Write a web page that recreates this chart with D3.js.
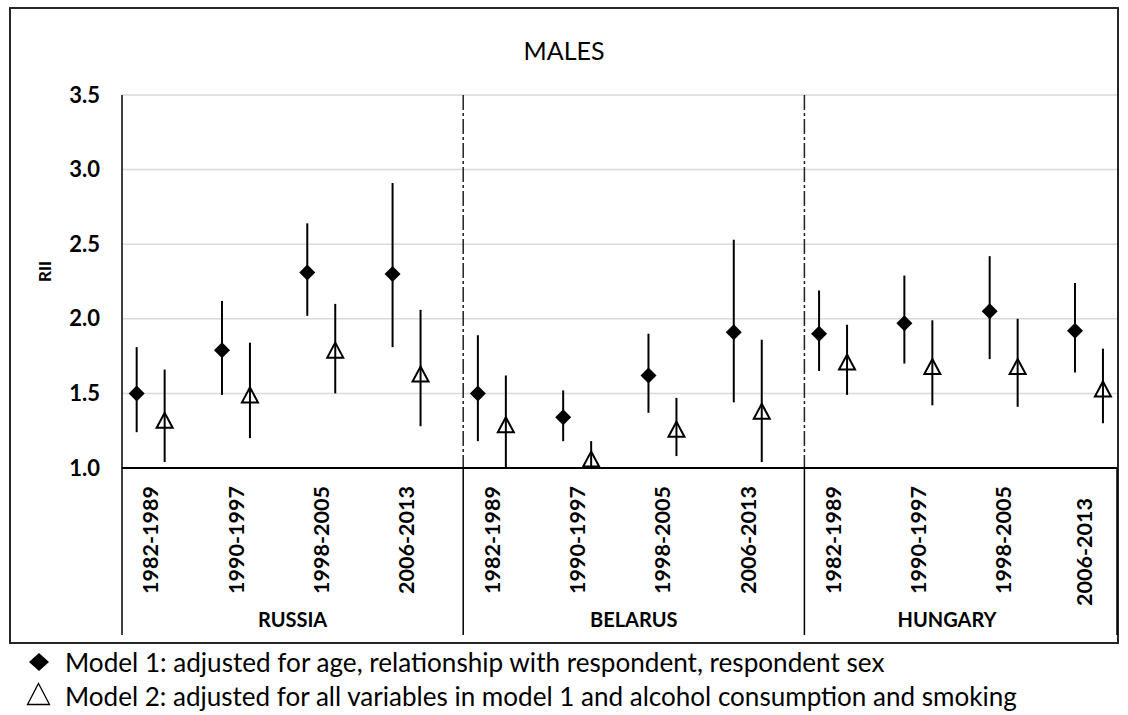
<!DOCTYPE html>
<html>
<head>
<meta charset="utf-8">
<script src="https://cdn.jsdelivr.net/npm/d3@7"></script>
<style>
  html, body { margin: 0; padding: 0; background: #fff; }
  svg { display: block; font-family: Lato, "Open Sans", sans-serif; }
</style>
</head>
<body>
<svg id="chart" width="1128" height="715"></svg>
<script>
// ---- data ----
const countries = ["RUSSIA", "BELARUS", "HUNGARY"];
const periods = ["1982-1989", "1990-1997", "1998-2005", "2006-2013"];
const yTicks = [1.0, 1.5, 2.0, 2.5, 3.0, 3.5];

// Model 1 (filled diamond): estimate, lower CI, upper CI  (Russia x4, Belarus x4, Hungary x4)
const m1Est = [1.50, 1.79, 2.31, 2.30, 1.50, 1.34, 1.62, 1.91, 1.90, 1.97, 2.05, 1.92];
const m1Lo  = [1.24, 1.49, 2.02, 1.81, 1.18, 1.18, 1.37, 1.44, 1.65, 1.70, 1.73, 1.64];
const m1Hi  = [1.81, 2.12, 2.64, 2.91, 1.89, 1.52, 1.90, 2.53, 2.19, 2.29, 2.42, 2.24];
// Model 2 (open triangle)
const m2Est = [1.32, 1.49, 1.79, 1.63, 1.29, 1.06, 1.26, 1.38, 1.71, 1.68, 1.68, 1.53];
const m2Lo  = [1.04, 1.20, 1.50, 1.28, 0.93, 0.92, 1.08, 1.04, 1.49, 1.42, 1.41, 1.30];
const m2Hi  = [1.66, 1.84, 2.10, 2.06, 1.62, 1.18, 1.47, 1.86, 1.96, 1.99, 2.00, 1.80];

const legendLabels = [
  "Model 1: adjusted for age, relationship with respondent, respondent sex",
  "Model 2: adjusted for all variables in model 1 and alcohol consumption and smoking"
];
const titleText = "MALES";
const yTitle = "RII";

// ---- layout ----
const svg = d3.select("#chart");
const plotLeft = 122, plotRight = 1117, plotTop = 95, plotBottom = 468;
const catBottom = 635;

const cats = [];
countries.forEach(c => periods.forEach(p => cats.push(c + "|" + p)));

const x = d3.scaleBand().domain(cats).range([plotLeft, plotLeft + 12 * 85.3]).padding(0);
const bw = x.bandwidth();
const y = d3.scaleLinear().domain([1, 3.5]).range([plotBottom, plotTop]);

const rows = cats.map((k, i) => ({
  key: k, country: k.split("|")[0], period: k.split("|")[1], i,
  m1: m1Est[i], m1lo: m1Lo[i], m1hi: m1Hi[i],
  m2: m2Est[i], m2lo: m2Lo[i], m2hi: m2Hi[i]
}));

// outer frame
svg.append("rect").attr("x", 10).attr("y", 8).attr("width", 1108).attr("height", 635)
  .attr("fill", "#fff").attr("stroke", "#262626").attr("stroke-width", 2);

// title
svg.append("text").attr("x", 564).attr("y", 60).attr("text-anchor", "middle")
  .attr("font-size", 25).attr("fill", "#000").text(titleText);

// gridlines
svg.append("g").selectAll("line").data(yTicks.filter(t => t > 1)).join("line")
  .attr("x1", plotLeft).attr("x2", plotRight)
  .attr("y1", d => y(d)).attr("y2", d => y(d))
  .attr("stroke", "#d9d9d9").attr("stroke-width", 1.5);

// y axis
const yAxis = d3.axisLeft(y).tickValues(yTicks).tickFormat(d3.format(".1f")).tickSize(0).tickPadding(22);
const gy = svg.append("g").attr("transform", `translate(${plotLeft},0)`).call(yAxis);
gy.select(".domain").remove();
gy.selectAll("text").attr("font-family", "Lato").attr("font-weight", "bold")
  .attr("font-size", 22).attr("fill", "#000");
svg.append("line").attr("x1", plotLeft).attr("x2", plotLeft).attr("y1", plotTop).attr("y2", plotBottom)
  .attr("stroke", "#000").attr("stroke-width", 1.5);

// y title
svg.append("text").attr("transform", `translate(51,${(plotTop + plotBottom) / 2 - 10}) rotate(-90)`)
  .attr("text-anchor", "middle").attr("font-weight", "bold").attr("font-size", 17).text(yTitle);

// country separators (dash-dot) inside plot
const sepX = countries.slice(1).map(c => x(c + "|" + periods[0]));
svg.append("g").selectAll("line").data(sepX).join("line")
  .attr("x1", d => d).attr("x2", d => d).attr("y1", plotTop).attr("y2", plotBottom)
  .attr("stroke", "#222").attr("stroke-width", 1.5).attr("stroke-dasharray", "15,3,3,3");

// category axis box
svg.append("line").attr("x1", plotLeft).attr("x2", plotRight).attr("y1", plotBottom).attr("y2", plotBottom)
  .attr("stroke", "#000").attr("stroke-width", 1.8);
const boxX = [plotLeft, ...sepX, plotRight];
svg.append("g").selectAll("line").data(boxX).join("line")
  .attr("x1", d => d).attr("x2", d => d).attr("y1", plotBottom).attr("y2", catBottom)
  .attr("stroke", "#000").attr("stroke-width", 1.5);

// period labels
svg.append("g").selectAll("text").data(rows).join("text")
  .attr("transform", d => {
    const last = d.i === rows.length - 1;
    const cx = x(d.key) + bw * 0.337 - (last ? 5 : 0);
    const cy = 540 + (last ? 12 : 0);
    return `translate(${cx},${cy}) rotate(-90)`;
  })
  .attr("text-anchor", "middle").attr("dy", "0.36em")
  .attr("font-weight", "bold").attr("font-size", 21.5).attr("fill", "#000")
  .text(d => d.period);

// country labels
const countryMid = {
  RUSSIA: (boxX[0] + boxX[1]) / 2,
  BELARUS: (boxX[1] + boxX[2]) / 2,
  HUNGARY: 947
};
svg.append("g").selectAll("text").data(countries).join("text")
  .attr("x", d => countryMid[d]).attr("y", 627).attr("text-anchor", "middle")
  .attr("font-weight", "bold").attr("font-size", 20).attr("fill", "#000").text(d => d);

// clip for marks
svg.append("clipPath").attr("id", "plotclip").append("rect")
  .attr("x", plotLeft).attr("y", plotTop - 20).attr("width", plotRight - plotLeft).attr("height", plotBottom - plotTop + 20);

const marks = svg.append("g").attr("clip-path", "url(#plotclip)");
const dx1 = bw * 0.172, dx2 = bw * 0.5;

const diamond = (s) => `M0,${-s}L${s},0L0,${s}L${-s},0Z`;
const triangle = (w, h) => `M0,${-h / 2}L${w / 2},${h / 2}L${-w / 2},${h / 2}Z`;

// Model 1 error bars + diamonds
marks.selectAll(".e1").data(rows).join("line").attr("class", "e1")
  .attr("x1", d => x(d.key) + dx1).attr("x2", d => x(d.key) + dx1)
  .attr("y1", d => y(d.m1lo)).attr("y2", d => y(d.m1hi))
  .attr("stroke", "#000").attr("stroke-width", 2);
marks.selectAll(".p1").data(rows).join("path").attr("class", "p1")
  .attr("transform", d => `translate(${x(d.key) + dx1},${y(d.m1)})`)
  .attr("d", diamond(8)).attr("fill", "#000");

// Model 2 triangles + error bars
marks.selectAll(".p2").data(rows).join("path").attr("class", "p2")
  .attr("transform", d => `translate(${x(d.key) + dx2},${y(d.m2)})`)
  .attr("d", triangle(16, 15)).attr("fill", "#fff").attr("stroke", "#000").attr("stroke-width", 2);
marks.selectAll(".e2").data(rows).join("line").attr("class", "e2")
  .attr("x1", d => x(d.key) + dx2).attr("x2", d => x(d.key) + dx2)
  .attr("y1", d => y(Math.max(d.m2lo, 1))).attr("y2", d => y(d.m2hi))
  .attr("stroke", "#000").attr("stroke-width", 2);

// legend
const lg = svg.append("g");
lg.append("path").attr("transform", "translate(39,662)")
  .attr("d", "M0,-9L10,0L0,9L-10,0Z").attr("fill", "#000");
lg.append("path").attr("transform", "translate(38.5,694)")
  .attr("d", triangle(22, 21)).attr("fill", "#fff").attr("stroke", "#000").attr("stroke-width", 1.3);
const targetW = [820, 952];
const baseY = [672, 706];
legendLabels.forEach((t, i) => {
  const tx = lg.append("text").attr("x", 65).attr("y", baseY[i]).attr("font-size", 24).attr("fill", "#000").text(t);
  const w = tx.node().getComputedTextLength();
  tx.attr("font-size", 24 * targetW[i] / w);
});
</script>
</body>
</html>
